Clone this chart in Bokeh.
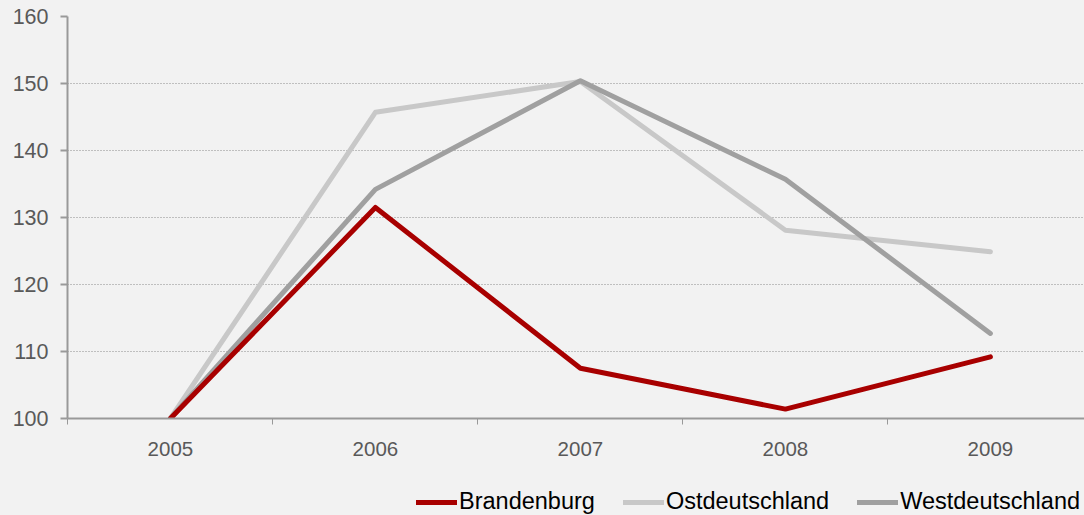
from bokeh.plotting import figure
from bokeh.layouts import column
from bokeh.models import FixedTicker, Legend, LegendItem, Range1d
from bokeh.embed import file_html
from bokeh.resources import INLINE

years = [2005, 2006, 2007, 2008, 2009]
year_labels = ["2005", "2006", "2007", "2008", "2009"]
brandenburg = [100, 131.5, 107.5, 101.4, 109.2]
ostdeutschland = [100, 145.7, 150.3, 128.1, 124.9]
westdeutschland = [100, 134.2, 150.4, 135.7, 112.7]
series_names = ["Brandenburg", "Ostdeutschland", "Westdeutschland"]

FONT = "Liberation Sans"
BG = "#f2f2f2"
COLORS = ["#a80000", "#c8c8c8", "#a0a0a0"]

p = figure(width=1084, height=465, output_backend="svg", toolbar_location=None,
           x_range=Range1d(2004.498, 2009.459), y_range=Range1d(100, 160),
           background_fill_color=BG, border_fill_color=BG,
           min_border_left=67, min_border_right=0, min_border_top=16, min_border_bottom=47)
p.outline_line_color = None

r1 = p.line(years, brandenburg, line_color=COLORS[0], line_width=5, line_cap="round", line_join="round")
r2 = p.line(years, ostdeutschland, line_color=COLORS[1], line_width=5, line_cap="round", line_join="round")
r3 = p.line(years, westdeutschland, line_color=COLORS[2], line_width=5, line_cap="round", line_join="round")
p.renderers = [r2, r3, r1]

# x axis
p.xaxis.ticker = FixedTicker(ticks=years, minor_ticks=[y - 0.5 for y in years] + [2009.5])
p.xaxis.major_label_overrides = {y: l for y, l in zip(years, year_labels)}
p.xaxis.major_tick_out = 0
p.xaxis.major_tick_in = 0
p.xaxis.minor_tick_out = 6
p.xaxis.minor_tick_in = 0
p.xaxis.minor_tick_line_color = "#999999"
p.xaxis.axis_line_color = "#999999"
p.xaxis.axis_line_width = 2
p.xaxis.major_label_text_font = FONT
p.xaxis.major_label_text_font_size = "20.5px"
p.xaxis.major_label_text_color = "#595959"
p.xaxis.major_label_standoff = 17

# y axis
p.yaxis.ticker = FixedTicker(ticks=[100, 110, 120, 130, 140, 150, 160], minor_ticks=[])
p.yaxis.major_tick_out = 7
p.yaxis.major_tick_in = 0
p.yaxis.major_tick_line_color = "#999999"
p.yaxis.major_tick_line_width = 2
p.yaxis.axis_line_color = "#999999"
p.yaxis.axis_line_width = 2
p.yaxis.major_label_text_font = FONT
p.yaxis.major_label_text_font_size = "21.5px"
p.yaxis.major_label_text_color = "#595959"
p.yaxis.major_label_standoff = 12

p.xgrid.grid_line_color = None
p.ygrid.grid_line_color = "#8c8c8c"
p.ygrid.grid_line_dash = "1 2"
p.ygrid.grid_line_width = 1

# legend strip
lg = figure(width=1084, height=50, output_backend="svg", toolbar_location=None,
            x_range=Range1d(0, 1), y_range=Range1d(0, 1),
            background_fill_color=BG, border_fill_color=BG,
            min_border_left=67, min_border_right=0, min_border_top=0, min_border_bottom=0)
lg.outline_line_color = None
lg.axis.visible = False
lg.grid.visible = False
items = []
for name, c in zip(series_names, COLORS):
    rr = lg.line([float("nan")], [float("nan")], line_color=c, line_width=5, line_cap="round")
    items.append(LegendItem(label=name, renderers=[rr]))
legend = Legend(items=items, orientation="horizontal", location=(349, 0),
                label_text_font=FONT, label_text_font_size="23.5px", label_text_color="#000000",
                glyph_width=41, glyph_height=26, label_standoff=2, spacing=28,
                padding=0, margin=0, border_line_alpha=0, background_fill_alpha=0)
lg.add_layout(legend, "center")

layout = column(p, lg, spacing=0, styles={"background-color": BG})
open("out.html", "w").write(file_html(layout, INLINE))
